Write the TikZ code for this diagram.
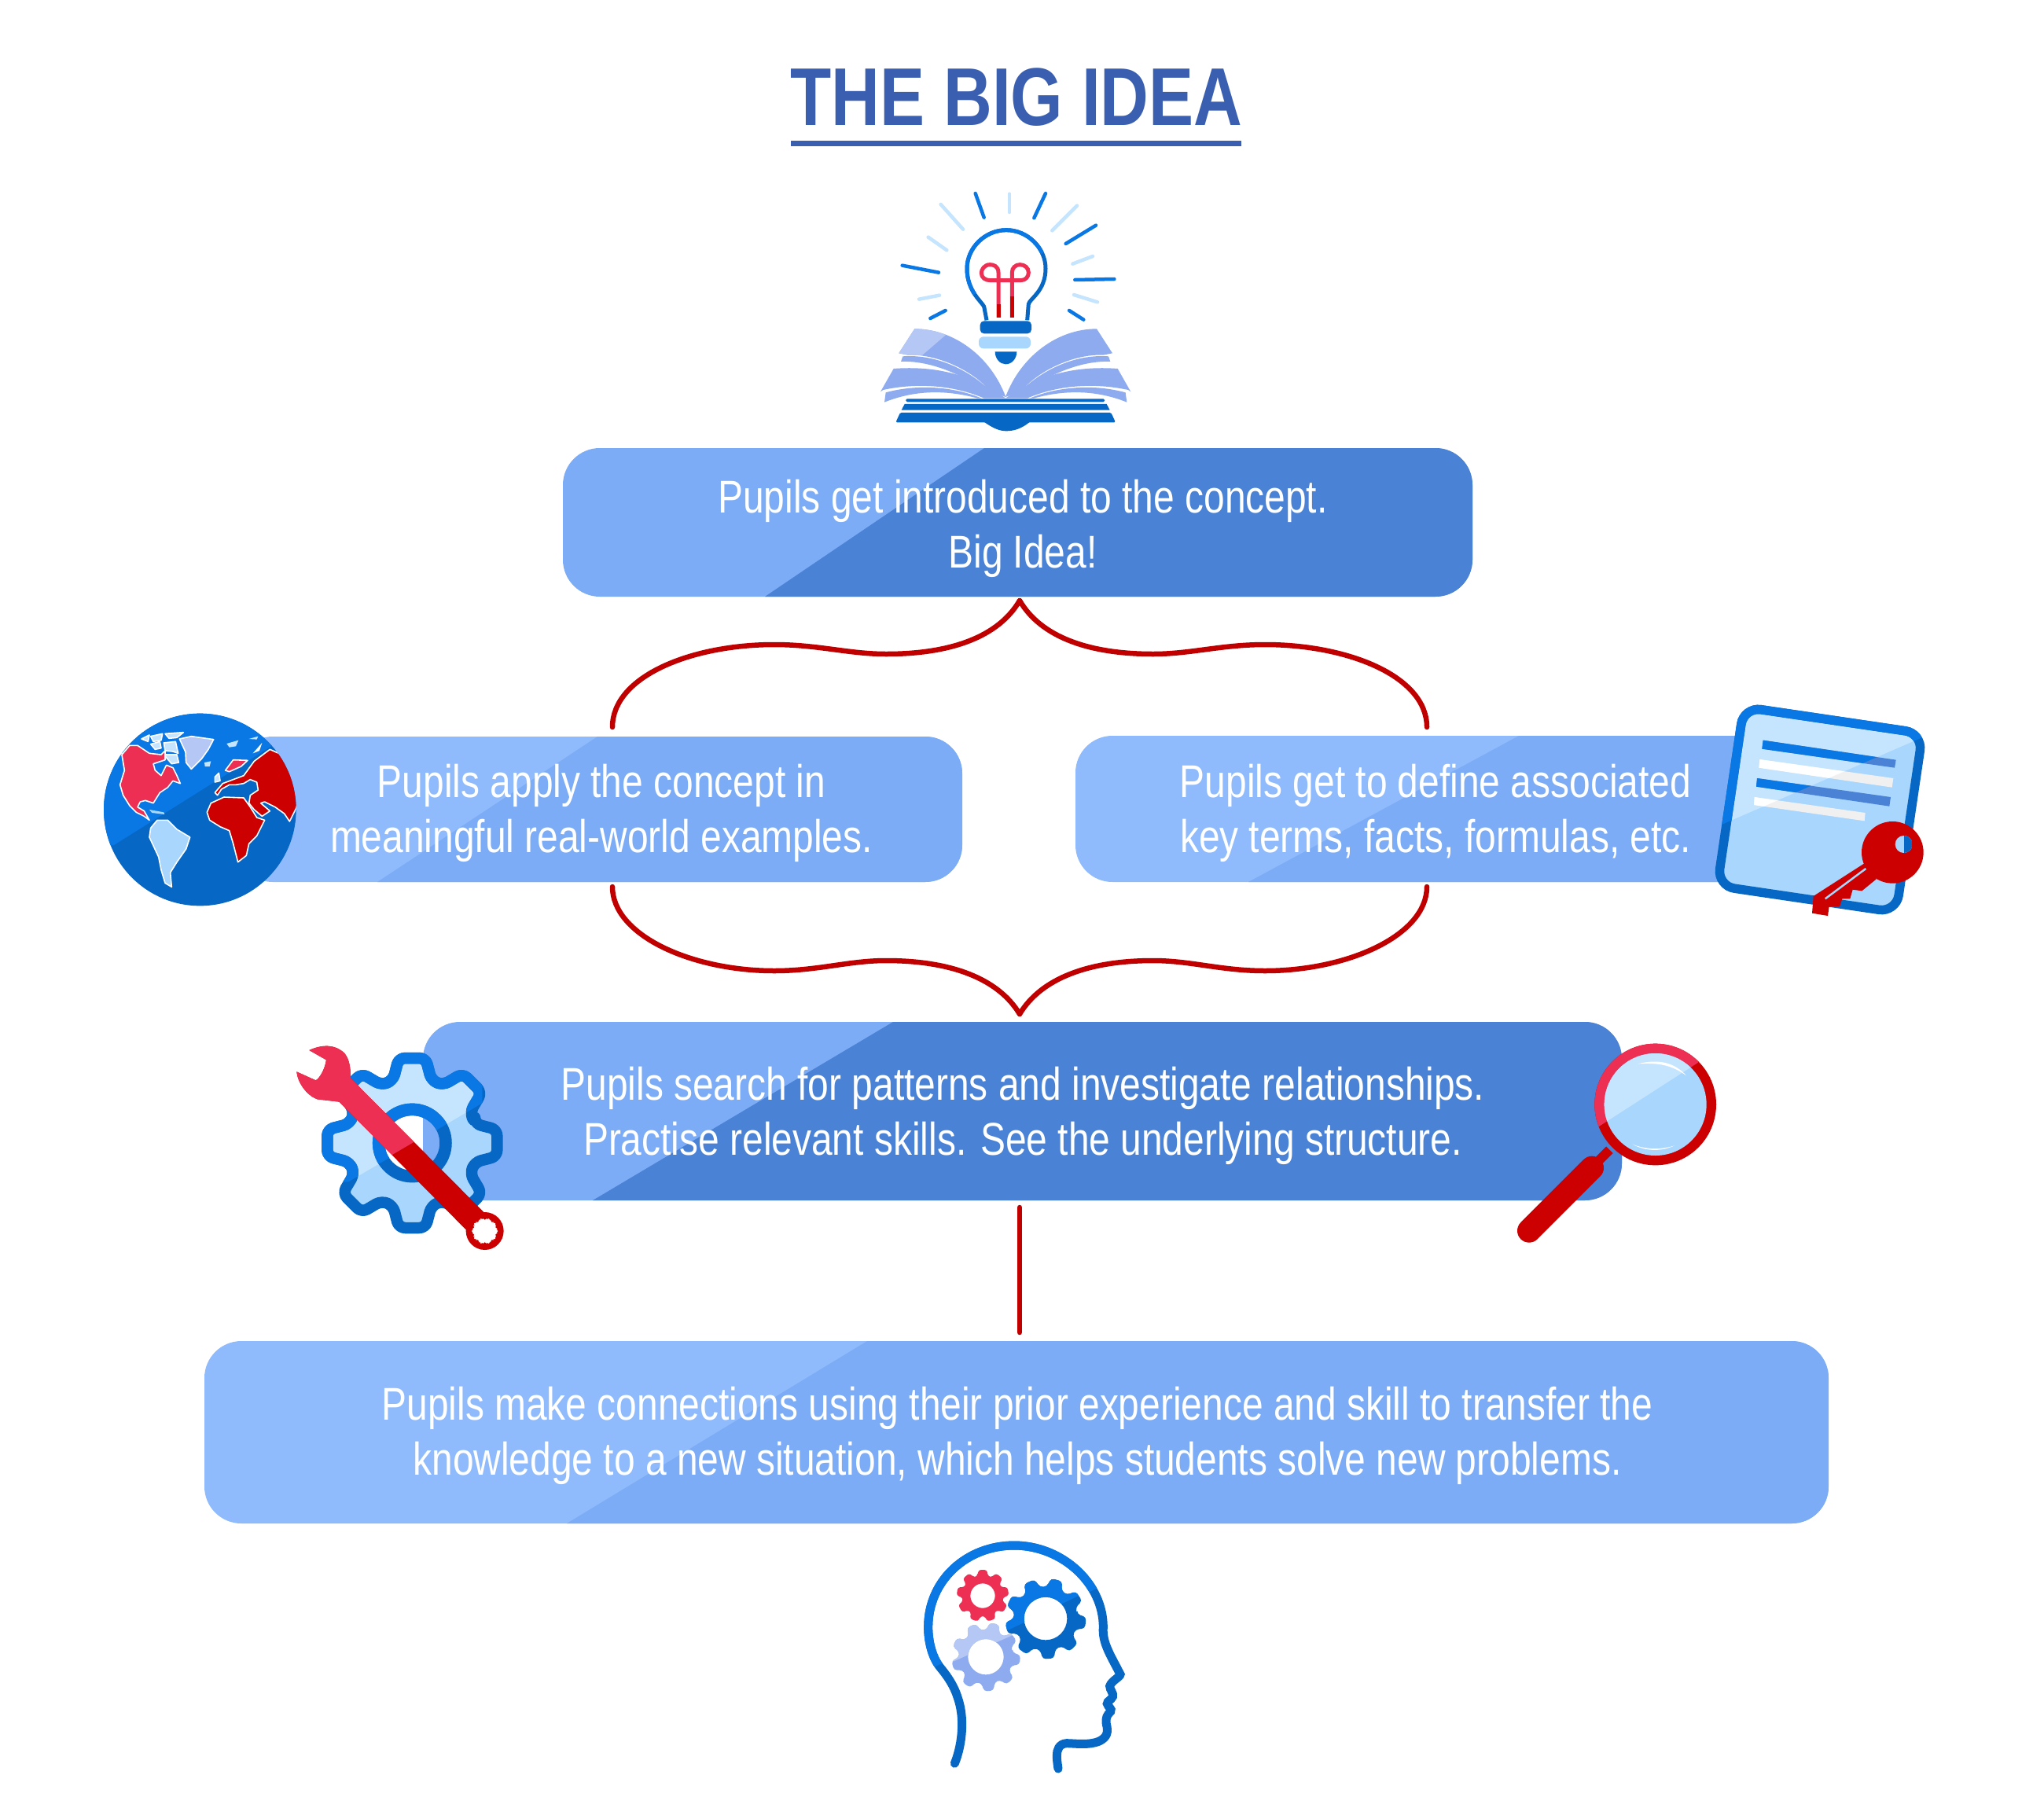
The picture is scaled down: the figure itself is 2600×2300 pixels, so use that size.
\documentclass[tikz,border=0pt]{standalone}
\usepackage{fontspec}
\setmainfont[FakeStretch=0.82]{Liberation Sans}
\newlength\pxu \setlength\pxu{0.01cm}
\definecolor{titleblue}{HTML}{3A5FB0}
\definecolor{boxA}{HTML}{8FBBFC}
\definecolor{boxB}{HTML}{7CACF5}
\definecolor{boxC}{HTML}{4A82D6}
\definecolor{blueA}{HTML}{0A78E4}
\definecolor{blueB}{HTML}{0767C4}
\definecolor{paleA}{HTML}{C5E4FE}
\definecolor{paleB}{HTML}{A8D6FD}
\definecolor{periA}{HTML}{B4C7F5}
\definecolor{periB}{HTML}{8FABF0}
\definecolor{redA}{HTML}{EC2F52}
\definecolor{redB}{HTML}{CC0000}
\definecolor{braceRed}{HTML}{C00000}
\newcommand\gearpath[8]{({#1+#5*cos(#8-#7)},{#2+#5*sin(#8-#7)}) \foreach \k in {1,...,#3} { -- ({#1+#4*cos((\k-1)*360/#3+#8-#6)},{#2+#4*sin((\k-1)*360/#3+#8-#6)}) -- ({#1+#4*cos((\k-1)*360/#3+#8+#6)},{#2+#4*sin((\k-1)*360/#3+#8+#6)}) -- ({#1+#5*cos((\k-1)*360/#3+#8+#7)},{#2+#5*sin((\k-1)*360/#3+#8+#7)}) -- ({#1+#5*cos(\k*360/#3+#8-#7)},{#2+#5*sin(\k*360/#3+#8-#7)})} -- cycle}
% \twotone{x1}{y1}{x2}{y2}{lower opts}{upper opts}{path}
\newcommand\twotone[7]{\path[#5] #7;\begin{scope}\clip (#1,#2) -- (#3,#4) -- (#3,-3000) -- (-3000,-3000) -- (-3000,#2) -- cycle;\path[#6] #7;\end{scope}}
\newcommand\diagfill[3]{\fill[#3,sharp corners] ([xshift=#1\pxu]path picture bounding box.south west) -- ([xshift=#2\pxu]path picture bounding box.north west) -- (path picture bounding box.north east) -- (path picture bounding box.south east) -- cycle;}
\newcommand\bookhalf{%
 \fill[periB] (190,688) -- (250,595) .. controls (400,595) and (540,700) .. (598,855) -- (540,835) .. controls (470,750) and (330,690) .. (225,695) -- cycle;
 \fill[periB] (205,700) .. controls (340,690) and (470,760) .. (545,838) -- (535,842) .. controls (450,780) and (320,715) .. (198,720) -- cycle;
 \fill[periB] (120,835) -- (170,747) .. controls (330,735) and (470,770) .. (598,860) -- (515,860) .. controls (400,810) and (260,800) .. (130,828) -- cycle;
 \fill[periB] (140,838) .. controls (260,805) and (400,815) .. (505,860) -- (490,860) .. controls (380,830) and (260,825) .. (135,875) -- cycle;
}
\tikzset{
 x=0.01cm,y=-0.01cm,
 panel/.style={rounded corners=47\pxu,fill=boxB,inner sep=0pt,outer sep=0pt},
 lbl/.style={text=white,align=center,font=\fontsize{16.62}{19.9}\selectfont,inner sep=0pt},
 brace/.style={draw=braceRed,line width=6.5\pxu,line cap=round},
 rayD/.style={draw=blueB,line width=4.5\pxu,line cap=round},
 rayL/.style={draw=paleA,line width=4.5\pxu,line cap=round},
 land/.style={draw=white,line width=1.6\pxu,line join=round},
}
\begin{document}
\begin{tikzpicture}
\useasboundingbox (0,0) rectangle (2600,2300);
\fill[white] (0,0) rectangle (2600,2300);

% title
\node[text=titleblue,font=\fontsize{29.65}{32}\selectfont\bfseries,inner sep=0pt] (title) at (1293,124) {THE BIG IDEA};
\coordinate (ulL) at (1006,183);
\coordinate (ulR) at (1579,183);
\draw[titleblue,line width=7\pxu] (ulL) -- (ulR);

% connectors
\coordinate (tipA) at (1297,764);
\coordinate (tipB) at (1297,1290);
\coordinate (tipC) at (1297,1536);
\coordinate (tipD) at (1297,1695);
\coordinate (bL1) at (779,925);
\coordinate (bR1) at (1815,925);
\coordinate (bL2) at (779,1128);
\coordinate (bR2) at (1815,1128);
\draw[brace] (tipA) .. controls (1270,810) and (1210,832) .. (1127,832) .. controls (1080,832) and (1040,820) .. (985,820) .. controls (880,820) and (779,860) .. (bL1);
\draw[brace] (tipA) .. controls (1324,810) and (1384,832) .. (1467,832) .. controls (1514,832) and (1554,820) .. (1609,820) .. controls (1714,820) and (1815,860) .. (bR1);
\draw[brace] (tipB) .. controls (1270,1245) and (1210,1222) .. (1127,1222) .. controls (1080,1222) and (1040,1235) .. (985,1235) .. controls (880,1235) and (779,1190) .. (bL2);
\draw[brace] (tipB) .. controls (1324,1245) and (1384,1222) .. (1467,1222) .. controls (1514,1222) and (1554,1235) .. (1609,1235) .. controls (1714,1235) and (1815,1190) .. (bR2);
\draw[brace] (tipC) -- (tipD);

% panels
\node[panel,minimum width=1157\pxu,minimum height=189\pxu,path picture={\diagfill{257}{536}{boxC}}] (box1) at (1294.5,664.5) {};
\node[panel,fill=boxA,minimum width=924\pxu,minimum height=185\pxu,path picture={\diagfill{180}{460}{boxB}}] (box2) at (762,1029.5) {};
\node[panel,fill=boxA,minimum width=900\pxu,minimum height=186\pxu,path picture={\diagfill{220}{564}{boxB}}] (box3) at (1818,1029) {};
\node[panel,minimum width=1525\pxu,minimum height=227\pxu,path picture={\diagfill{216}{598}{boxC}}] (box4) at (1300.5,1413.5) {};
\node[panel,fill=boxA,minimum width=2066\pxu,minimum height=232\pxu,path picture={\diagfill{461}{843}{boxB}}] (box5) at (1293,1822) {};

\node[lbl] (t1) at (1301,672) {Pupils get introduced to the concept.\\Big Idea!};
\node[lbl] (t2) at (765,1034) {Pupils apply the concept in\\meaningful real-world examples.};
\node[lbl] (t3) at (1826,1034) {Pupils get to define associated\\key terms, facts, formulas, etc.};
\node[lbl] (t4) at (1301,1419) {Pupils search for patterns and investigate relationships.\\Practise relevant skills. See the underlying structure.};
\node[lbl] (t5) at (1294,1826) {Pupils make connections using their prior experience and skill to transfer the\\knowledge to a new situation, which helps students solve new problems.};

% ===== bulb and book
\begin{scope}[shift={(1080,220)},scale=0.33333]
 \foreach \a/\b/\c/\d in {482/78/515/170,750/78/706/172,942/200/827/270,862/408/1012/405,840/525/895/560,368/525/310/555,342/380/203/353}
   \draw[rayD,blueA] (\a,\b) -- (\c,\d);
 \foreach \a/\b/\c/\d in {612/80/612/150,870/125/775/220,350/120/435/215,302/245/373/295,930/318/853/347,858/465/948/493,345/467/267/482}
   \draw[rayL] (\a,\b) -- (\c,\d);
 \twotone{450}{480}{750}{300}{draw=blueB,line width=5\pxu}{draw=blueA,line width=5\pxu}{(525,562) -- (515,510) .. controls (505,490) and (450,450) .. (450,365) .. controls (450,285) and (520,218) .. (600,218) .. controls (680,218) and (750,285) .. (750,365) .. controls (750,450) and (690,480) .. (685,500) -- (680,562)}
 \draw[redA,line width=5\pxu] (570,552) -- (570,380) .. controls (570,355) and (550,350) .. (538,350) .. controls (515,350) and (505,370) .. (505,382) .. controls (505,400) and (520,410) .. (540,410) -- (655,410) .. controls (675,410) and (685,395) .. (685,380) .. controls (685,362) and (670,350) .. (652,350) .. controls (635,350) and (622,362) .. (622,380) -- (622,552);
 \draw[redB,line width=5\pxu] (570,552) -- (570,500);
 \draw[redB,line width=5\pxu] (622,552) -- (622,470);
 \fill[blueB,rounded corners=5\pxu] (500,565) rectangle (696,613);
 \fill[paleB,rounded corners=6\pxu] (495,625) rectangle (693,670);
 \fill[blueB] (557,682) -- (640,682) .. controls (640,710) and (620,730) .. (598,730) .. controls (577,730) and (557,710) .. (557,682) -- cycle;
 \bookhalf
 \begin{scope}[shift={(1195,0)},xscale=-1]\bookhalf\end{scope}
 \begin{scope}
  \clip (190,688) -- (250,595) .. controls (400,595) and (540,700) .. (598,855) -- (540,835) .. controls (470,750) and (330,690) .. (225,695) -- cycle;
  \fill[periA] (180,700) -- (240,580) -- (390,600) -- (280,695) -- cycle;
 \end{scope}
 \fill[blueB,rounded corners=1.5\pxu] (217,862) rectangle (975,874);
 \fill[blueB] (212,882) -- (983,882) -- (995,905) -- (200,905) -- cycle;
 \fill[blueB,rounded corners=1.5\pxu] (195,915) -- (1000,915) -- (1017,952) -- (178,952) -- cycle;
 \fill[blueB] (515,950) .. controls (550,975) and (575,985) .. (600,985) .. controls (630,985) and (660,975) .. (690,950) -- cycle;
\end{scope}

% ===== globe
\begin{scope}[shift={(110,880)},scale=0.33333]
 \fill[blueB] (433,450) circle (367);
 \begin{scope}
  \clip (433,450) circle (367);
  \fill[blueA] (105,585) -- (710,205) -- (710,50) -- (50,50) -- (50,585) -- cycle;
  \foreach \p in {{(210,180) -- (240,165) -- (235,190) -- cycle},{(245,170) -- (290,160) -- (285,185) -- (255,190) -- cycle},{(300,160) -- (370,155) -- (345,175) -- (315,178) -- cycle},{(245,200) -- (280,190) -- (285,215) -- (262,220) -- cycle},{(295,195) -- (340,190) -- (350,235) -- (330,228) -- (300,225) -- cycle},{(295,240) -- (345,240) -- (352,270) -- (325,275) -- cycle}}
    \fill[paleA,land] \p;
  \fill[periA,land] (355,180) -- (400,170) -- (485,182) -- (465,220) -- (440,255) -- (400,295) -- (380,270) -- (378,230) -- cycle;
  \fill[redA,land] (135,240) -- (165,205) -- (195,205) -- (240,235) -- (285,240) -- (300,225) -- (300,260) -- (255,275) -- (262,300) -- (285,320) -- (305,280) -- (330,290) -- (345,320) -- (358,350) -- (330,340) -- (310,365) -- (280,385) -- (255,425) -- (225,415) -- (205,420) -- (195,440) -- (220,455) -- (240,490) -- (220,475) -- (190,460) -- (165,435) -- (140,395) -- (128,355) -- (145,300) -- cycle;
  \fill[paleB,land] (270,490) -- (310,490) -- (345,525) -- (395,555) -- (380,600) -- (345,650) -- (320,690) -- (325,745) -- (300,730) -- (285,680) -- (275,630) -- (240,555) -- (245,520) -- cycle;
  \fill[redB,land] (460,460) -- (475,425) -- (525,402) -- (600,405) -- (625,440) -- (650,480) -- (680,490) -- (650,550) -- (620,580) -- (610,625) -- (578,650) -- (560,580) -- (545,530) -- (510,515) -- (470,490) -- cycle;
  \fill[redB,land] (490,385) -- (520,350) -- (600,320) -- (640,265) -- (700,220) -- (745,240) -- (785,320) -- (810,400) -- (800,445) -- (775,495) -- (755,465) -- (720,440) -- (680,420) -- (665,425) -- (700,455) -- (670,475) -- (640,450) -- (620,425) -- (625,395) -- (655,375) -- (650,345) -- (625,335) -- (600,350) -- (570,355) -- (545,355) -- (515,372) -- (500,395) -- cycle;
  \fill[redA,land] (530,300) -- (560,260) -- (615,262) -- (590,285) -- (545,305) -- cycle;
  \fill[paleA,land] (490,325) -- (505,310) -- (510,340) -- (490,345) -- cycle;
  \fill[paleA] (535,198) -- (580,185) -- (570,208) -- (545,212) -- cycle;
  \fill[paleA] (450,270) -- (475,265) -- (470,285) -- (452,285) -- cycle;
  \fill[paleA] (620,180) -- (655,170) -- (650,182) -- cycle;
  \fill[white] (635,235) -- (670,195) -- (660,225) -- cycle;
  \fill[paleB] (240,450) -- (295,460) -- (298,468) -- (250,462) -- cycle;
 \end{scope}
\end{scope}

% ===== document and key
\begin{scope}[shift={(2150,870)},scale=0.33333]
 \twotone{120}{537}{895}{200}{fill=paleB}{fill=paleA}{[rotate around={-8.4:(495,480)}] (150,135) [rounded corners=22\pxu] -- (840,135) -- (840,825) -- (150,825) -- cycle}
 \twotone{120}{537}{895}{200}{draw=blueB,line width=11.5\pxu}{draw=blueA,line width=11.5\pxu}{[rotate around={-8.4:(495,480)}] (150,135) [rounded corners=22\pxu] -- (840,135) -- (840,825) -- (150,825) -- cycle}
 \twotone{160}{520}{860}{215}{fill=boxC}{fill=blueA}{(278,215) -- (785,290) -- (780,320) -- (274,248) -- cycle}
 \twotone{160}{520}{860}{215}{fill=white!94!black}{fill=white}{(265,288) -- (775,360) -- (770,395) -- (262,320) -- cycle}
 \twotone{160}{520}{860}{215}{fill=boxC}{fill=blueA}{(255,360) -- (765,432) -- (760,467) -- (252,392) -- cycle}
 \twotone{160}{520}{860}{215}{fill=white!94!black}{fill=white}{(245,432) -- (668,492) -- (665,523) -- (243,462) -- cycle}
 \fill[redB] (772,643) circle (118);
 \fill[redB] (680,675) -- (470,810) -- (465,875) -- (525,885) -- (530,850) -- (570,850) -- (580,820) -- (610,820) -- (620,785) -- (655,790) -- (710,745) -- cycle;
 \begin{scope}
  \clip (815,612) circle (33);
  \fill[paleB] (780,570) rectangle (850,650);
  \fill[blueB] (815,570) rectangle (850,650);
 \end{scope}
 \draw[paleB,line width=2.5\pxu] (515,820) -- (670,705);
\end{scope}

% ===== gear and wrench
\begin{scope}[shift={(360,1310)},scale=0.33333]
 \twotone{250}{580}{760}{280}{fill=paleB,even odd rule}{fill=paleA,even odd rule}{\gearpath{493}{432}{8}{328}{250}{9}{17}{0} (493,432) circle (128)}
 \twotone{250}{580}{760}{280}{draw=blueB,line width=14.5\pxu,rounded corners=8\pxu,line join=round}{draw=blueA,line width=14.5\pxu,rounded corners=8\pxu,line join=round}{\gearpath{493}{432}{8}{328}{250}{9}{17}{0}}
 \twotone{250}{580}{760}{280}{draw=blueB,line width=15.5\pxu}{draw=blueA,line width=15.5\pxu}{(493,432) circle (128)}
 \twotone{415}{478}{497}{430}{fill=redB}{fill=redA}{(100,78) .. controls (150,55) and (200,55) .. (235,90) .. controls (255,115) and (258,150) .. (258,185) -- (770,700) -- (710,775) -- (215,275) -- (130,265) .. controls (90,250) and (55,200) .. (52,160) -- (125,193) .. controls (140,185) and (160,150) .. (165,115) -- cycle}
 \fill[redB] (770,768) circle (72);
 \fill[white,rounded corners=2\pxu] \gearpath{770}{768}{10}{50}{43}{8}{10}{0};
\end{scope}

% ===== magnifier
\begin{scope}[shift={(1910,1300)},scale=0.33333]
 \draw[redB,line width=30\pxu,line cap=round] (105,797) -- (345,557);
 \draw[redB,line width=12\pxu] (412,488) -- (360,540);
 \twotone{370}{400}{750}{155}{fill=redB}{fill=redA}{(587,315) circle (232)}
 \twotone{370}{400}{750}{155}{fill=paleB}{fill=paleA}{(587,315) circle (195)}
 \fill[white] (520,160) .. controls (600,140) and (660,155) .. (705,205) .. controls (650,165) and (600,155) .. (520,160) -- cycle;
 \fill[white] (500,467) .. controls (550,495) and (610,495) .. (660,472) .. controls (610,488) and (550,488) .. (500,467) -- cycle;
\end{scope}

% ===== head with gears
\begin{scope}[shift={(1150,1950)},scale=0.33333]
 \twotone{120}{510}{760}{200}{draw=blueB,line width=11\pxu,line cap=round}{draw=blueA,line width=11\pxu,line cap=round}{(193,880) .. controls (225,800) and (230,700) .. (205,630) .. controls (190,580) and (160,540) .. (135,510) .. controls (105,470) and (92,410) .. (92,360) .. controls (92,180) and (240,48) .. (420,48) .. controls (600,48) and (760,190) .. (760,360) .. controls (755,420) and (790,470) .. (825,540) .. controls (825,550) and (790,565) .. (785,585) .. controls (785,600) and (800,610) .. (796,625) .. controls (790,640) and (775,640) .. (775,652) .. controls (778,665) and (795,670) .. (788,682) .. controls (775,695) and (768,705) .. (772,730) .. controls (780,760) and (775,780) .. (745,795) .. controls (705,812) and (650,803) .. (620,803) .. controls (590,805) and (583,830) .. (583,850) .. controls (583,870) and (586,885) .. (588,900)}
 \fill[redA,rounded corners=3\pxu,even odd rule] \gearpath{300}{240}{9}{100}{78}{9}{15}{270} (300,240) circle (47);
 \twotone{400}{370}{665}{240}{fill=blueB,rounded corners=4\pxu,even odd rule}{fill=blueA,rounded corners=4\pxu,even odd rule}{\gearpath{540}{327}{9}{155}{122}{8}{14}{6} (540,327) circle (82)}
 \twotone{190}{490}{415}{390}{fill=periB,rounded corners=4\pxu,even odd rule}{fill=periA,rounded corners=4\pxu,even odd rule}{\gearpath{312}{473}{9}{132}{103}{8}{14}{5} (312,473) circle (68)}
\end{scope}
\end{tikzpicture}
\end{document}
